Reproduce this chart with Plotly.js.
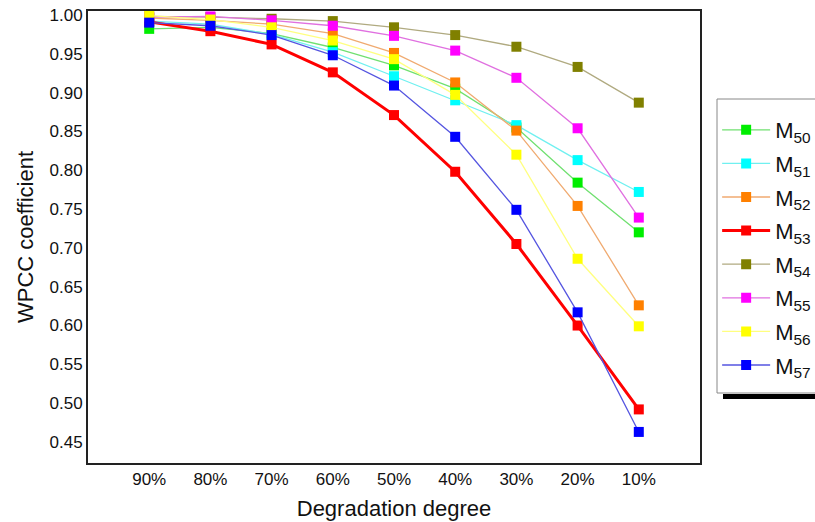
<!DOCTYPE html>
<html>
<head>
<meta charset="utf-8">
<script src="https://cdn.plot.ly/plotly-3.0.1.min.js"></script>
<style>html,body{margin:0;padding:0;background:#fff;}#chart{width:815px;height:522px;}</style>
</head>
<body>
<div id="chart"></div>
<script>
const categories = ["90%", "80%", "70%", "60%", "50%", "40%", "30%", "20%", "10%"];
const seriesNames = ["M<sub>50</sub>", "M<sub>51</sub>", "M<sub>52</sub>", "M<sub>53</sub>", "M<sub>54</sub>", "M<sub>55</sub>", "M<sub>56</sub>", "M<sub>57</sub>"];
const M50 = [0.982, 0.984, 0.976, 0.958, 0.935, 0.905, 0.855, 0.784, 0.720];
const M51 = [0.992, 0.988, 0.975, 0.952, 0.921, 0.890, 0.858, 0.813, 0.772];
const M52 = [0.996, 0.993, 0.988, 0.976, 0.951, 0.913, 0.851, 0.754, 0.626];
const M53 = [0.991, 0.979, 0.962, 0.926, 0.871, 0.798, 0.705, 0.600, 0.492];
const M54 = [0.998, 0.997, 0.995, 0.992, 0.984, 0.974, 0.959, 0.933, 0.887];
const M55 = [0.997, 0.998, 0.993, 0.986, 0.973, 0.954, 0.919, 0.854, 0.739];
const M56 = [0.999, 0.994, 0.984, 0.967, 0.943, 0.897, 0.820, 0.686, 0.599];
const M57 = [0.990, 0.986, 0.974, 0.948, 0.909, 0.843, 0.749, 0.617, 0.463];
const seriesValues = [M50, M51, M52, M53, M54, M55, M56, M57];
const yTicks = [1.00, 0.95, 0.90, 0.85, 0.80, 0.75, 0.70, 0.65, 0.60, 0.55, 0.50, 0.45];

const markerColors = ["#00ee00", "#00ffff", "#ff8000", "#ff0000", "#808000", "#ff00ff", "#ffff00", "#0000ff"];
const lineColors = ["#70e070", "#70f0f0", "#f0aa70", "#ff0000", "#b0aa80", "#e070e0", "#ffff80", "#5555e0"];
const lineWidths = [1.3, 1.3, 1.3, 3, 1.3, 1.3, 1.3, 1.3];

const font = "Liberation Sans, Arial, sans-serif";
const xIdx = categories.map((c, i) => i);

const traces = seriesValues.map((vals, k) => ({
  type: "scatter",
  mode: "lines+markers",
  x: xIdx,
  y: vals,
  name: seriesNames[k],
  legendgroup: "g" + k,
  line: {color: lineColors[k], width: lineWidths[k]},
  marker: {symbol: "square", size: 10, color: markerColors[k]}
}));

const px = v => (v - 88) / 612;
const py = v => (463 - v) / 452;

const layout = {
  width: 815, height: 522,
  margin: {l: 88, r: 115, t: 11, b: 59, autoexpand: false},
  paper_bgcolor: "#fff", plot_bgcolor: "#fff",
  font: {family: font, color: "#111"},
  showlegend: true,
  legend: {
    x: 1.028, xanchor: "left", y: py(109), yanchor: "top",
    borderwidth: 0, bgcolor: "rgba(0,0,0,0)",
    font: {family: font, size: 22, color: "#111"},
    itemwidth: 48,
    traceorder: "grouped", tracegroupgap: 2
  },
  xaxis: {
    range: [-1, 9],
    tickvals: xIdx, ticktext: categories,
    ticks: "", showgrid: false, zeroline: false,
    showline: true, mirror: true, linecolor: "#222", linewidth: 2,
    tickfont: {family: font, size: 17, color: "#111"},
    title: {text: "Degradation degree", font: {family: font, size: 22, color: "#111"}, standoff: 12}
  },
  yaxis: {
    range: [0.423, 1.005],
    tickvals: yTicks, ticktext: yTicks.map(v => v.toFixed(2)),
    ticks: "", showgrid: false, zeroline: false,
    showline: true, mirror: true, linecolor: "#222", linewidth: 2,
    tickfont: {family: font, size: 17, color: "#111"},
    title: {text: "WPCC coefficient", font: {family: font, size: 22, color: "#111"}, standoff: 10}
  },
  shapes: [
    {
      type: "rect", xref: "paper", yref: "paper",
      x0: px(717), x1: px(840), y0: py(393), y1: py(99),
      fillcolor: "#fff", line: {color: "#888", width: 1}
    },
    {
      type: "rect", xref: "paper", yref: "paper",
      x0: px(723), x1: px(840), y0: py(399), y1: py(394),
      fillcolor: "#000", line: {width: 0}
    }
  ]
};

Plotly.newPlot("chart", traces, layout, {displayModeBar: false, staticPlot: true});
</script>
</body>
</html>
